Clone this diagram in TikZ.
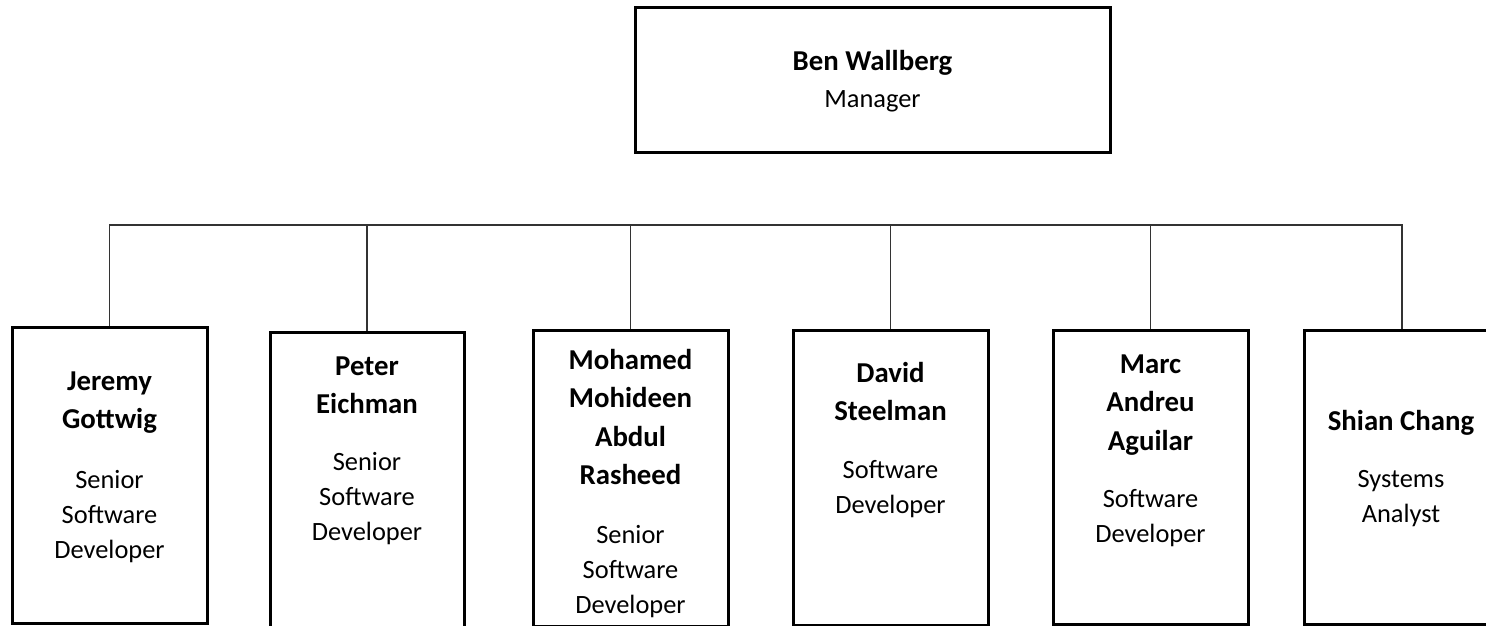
\documentclass[tikz,border=0pt]{standalone}
\usepackage{fontspec}
\setmainfont{Carlito}
\newcommand{\hstrut}{\rule{0pt}{24pt}}

\begin{document}
\begin{tikzpicture}[x=1pt,y=-1pt,
    card/.style={draw=black,line width=3pt,inner sep=0pt},
    who/.style={anchor=north,align=center,inner sep=0pt,font=\fontsize{28.8}{38.5}\selectfont\bfseries},
    role/.style={anchor=north,align=center,inner sep=0pt,font=\fontsize{26.4}{35}\selectfont},
    bus/.style={draw=black!80,line width=1.3pt}]
    \useasboundingbox (0,0) rectangle (1486,626);
    \clip (0,0) rectangle (1486,626);
    %\draw (0,0) grid[step=100] (1486,626);
      % Manager
      \node[card,minimum width=475pt,minimum height=144pt] (ben) at (872.5,80) {};
      \node[who] (ben-n) at (872.5,46) {\hstrut Ben Wallberg};
      \node[role] (ben-r) at (872.5,83) {\hstrut Manager};
      % Team boxes
      \node[card,minimum width=195pt,minimum height=296pt] (jeremy) at (109.5,475) {};
      \node[card,minimum width=194pt,minimum height=300pt] (peter) at (367,482) {};
      \node[card,minimum width=195pt,minimum height=296pt] (mohamed) at (630.5,478) {};
      \node[card,minimum width=195pt,minimum height=295pt] (david) at (890.5,477.5) {};
      \node[card,minimum width=195pt,minimum height=294.5pt] (marc) at (1150.5,477.25) {};
      \node[card,minimum width=196pt,minimum height=294.5pt] (shian) at (1402,477.25) {};
      % Names
      \node[who] (jeremy-n) at (109.5,366) {\hstrut Jeremy\\Gottwig};
      \node[who] (peter-n) at (367,351) {\hstrut Peter\\Eichman};
      \node[who] (mohamed-n) at (630.5,345) {\hstrut Mohamed\\Mohideen\\Abdul\\Rasheed};
      \node[who] (david-n) at (890.5,358) {\hstrut David\\Steelman};
      \node[who] (marc-n) at (1150.5,349) {\hstrut Marc\\Andreu\\Aguilar};
      \node[who] (shian-n) at (1401,406) {\hstrut Shian Chang};
      % Titles
      \node[role] (jeremy-r) at (109.5,464) {\hstrut Senior\\Software\\Developer};
      \node[role] (peter-r) at (367,446) {\hstrut Senior\\Software\\Developer};
      \node[role] (mohamed-r) at (630.5,519) {\hstrut Senior\\Software\\Developer};
      \node[role] (david-r) at (890.5,454) {\hstrut Software\\Developer};
      \node[role] (marc-r) at (1150.5,483) {\hstrut Software\\Developer};
      \node[role] (shian-r) at (1401,463) {\hstrut Systems\\Analyst};
      % Bus
      \coordinate (hub) at (872.5,225);
      \foreach \p in {jeremy,peter,mohamed,david,marc,shian}
        \draw[bus] (hub) -| (\p.north);
\end{tikzpicture}
\end{document}
